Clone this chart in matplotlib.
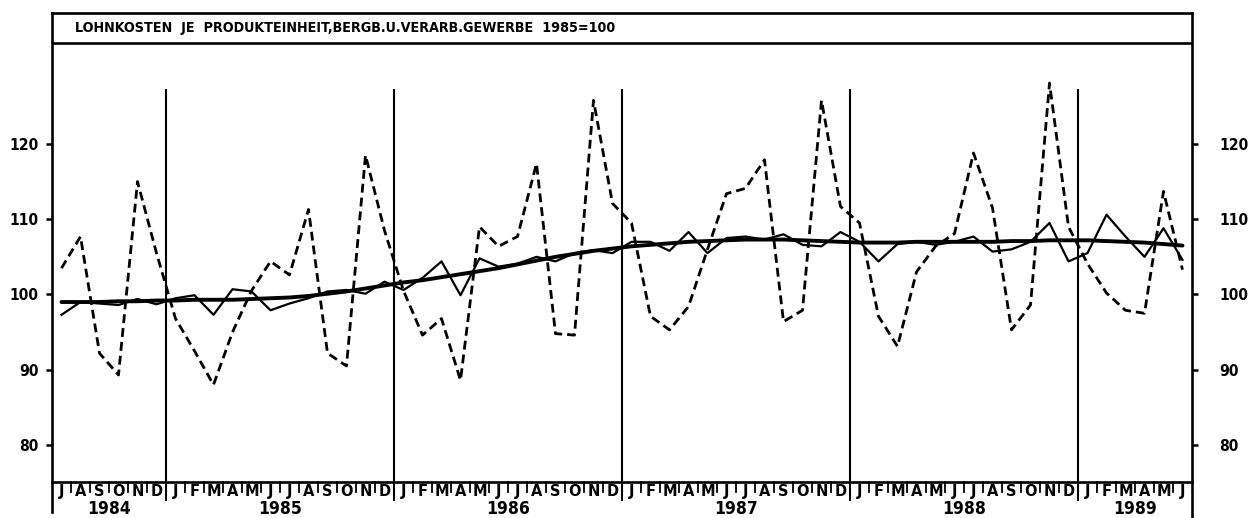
import matplotlib
matplotlib.use("Agg")
import matplotlib.pyplot as plt
from matplotlib import font_manager

# Monthly values, Jul 1984 .. Jun 1989
months = list("JASOND" + "JFMAMJJASOND" * 4 + "JFMAMJ")
years = ["1984", "1985", "1986", "1987", "1988", "1989"]
year_months = [6, 12, 12, 12, 12, 6]

raw = [103.5, 107.7, 92.2, 89.3, 115.0, 105.5,
       96.8, 92.5, 88.0, 95.0, 100.5, 104.4, 102.6, 111.3, 92.2, 90.5, 118.5, 108.5,
       100.5, 94.6, 96.8, 88.6, 109.0, 106.4, 107.7, 117.4, 94.8, 94.6, 125.8, 112.1,
       109.5, 97.1, 95.3, 98.4, 106.0, 113.4, 114.1, 117.9, 96.4, 97.9, 125.8, 111.7,
       109.5, 97.1, 93.1, 103.0, 106.4, 108.1, 118.8, 111.5, 95.3, 98.6, 128.1, 109.0,
       104.1, 100.2, 97.9, 97.5, 113.7, 103.3]

adjusted = [97.3, 99.0, 98.8, 98.6, 99.4, 98.7,
            99.5, 99.9, 97.3, 100.7, 100.4, 97.9, 98.8, 99.5, 100.4, 100.6, 100.1, 101.7,
            100.6, 102.2, 104.4, 99.9, 104.8, 103.7, 104.1, 105.0, 104.4, 105.5, 105.9, 105.5,
            107.0, 107.0, 105.8, 108.3, 105.5, 107.5, 107.7, 107.3, 108.0, 106.6, 106.4, 108.3,
            107.0, 104.4, 106.7, 107.0, 106.6, 107.0, 107.7, 105.7, 106.0, 107.0, 109.5, 104.4,
            105.5, 110.6, 107.7, 105.0, 108.8, 104.6]

trend = [99.0, 99.0, 99.0, 99.1, 99.1, 99.2,
         99.2, 99.3, 99.3, 99.3, 99.4, 99.5, 99.6, 99.8, 100.1, 100.4, 100.8, 101.2,
         101.6, 101.9, 102.3, 102.7, 103.1, 103.5, 104.0, 104.5, 105.0, 105.4, 105.8, 106.1,
         106.4, 106.6, 106.8, 107.0, 107.1, 107.2, 107.3, 107.3, 107.3, 107.2, 107.1, 107.0,
         106.9, 106.9, 106.9, 107.0, 107.0, 107.0, 107.0, 107.0, 107.1, 107.1, 107.2, 107.2,
         107.2, 107.1, 107.0, 106.9, 106.7, 106.5]

yticks = [80, 90, 100, 110, 120]
title = "LOHNKOSTEN  JE  PRODUKTEINHEIT,BERGB.U.VERARB.GEWERBE  1985=100"

# pick a narrow bold face if there is one
fonts = font_manager.fontManager.ttflist
names = {f.name for f in fonts}
if "Liberation Sans Narrow" in names:
    family, stretch, k = "Liberation Sans Narrow", "normal", 1.0
elif any(f.name == "DejaVu Sans" and f.stretch == "condensed" for f in fonts):
    family, stretch, k = "DejaVu Sans", "condensed", 0.9
else:
    family, stretch, k = "Liberation Sans", "normal", 0.86
plt.rcParams["font.family"] = family
plt.rcParams["font.stretch"] = stretch
plt.rcParams["font.weight"] = "bold"

W, H = 1251, 518
fig = plt.figure(figsize=(W / 100, H / 100), dpi=100)
ax = fig.add_axes([52 / W, (H - 482) / H, 1140 / W, (482 - 13) / H])

ymin, ymax = 75.08, 137.41
title_line = 133.42
n = len(months)
x = [i + 0.5 for i in range(n)]

ax.plot(x, raw, color="black", lw=2.0, ls=(0, (3.2, 1.8)))
ax.plot(x, adjusted, color="black", lw=1.6)
ax.plot(x, trend, color="black", lw=2.8, solid_capstyle="round")

ax.set_xlim(0, n)
ax.set_ylim(ymin, ymax)

for s in ax.spines.values():
    s.set_linewidth(1.9)

# title box
ax.axhline(title_line, color="black", lw=1.9)
ax.text(0.02, 0.5 * (title_line + ymax), title, transform=ax.get_yaxis_transform(),
        ha="left", va="center", fontsize=11.4 * k)

# year separators
edges = [0]
for m in year_months:
    edges.append(edges[-1] + m)
for e in edges[1:-1]:
    ax.plot([e, e], [72.7, 127.2], color="black", lw=1.5, clip_on=False)

# month separators and letters below axis
for i in range(1, n):
    if i not in edges:
        ax.plot([i, i], [ymin, ymin - 1.3], color="black", lw=1.3, clip_on=False)
for i, m in enumerate(months):
    ax.text(i + 0.5, ymin - 0.25, m, ha="center", va="top", fontsize=13 * k)
for j, yr in enumerate(years):
    ax.text(0.5 * (edges[j] + edges[j + 1]), ymin - 2.45, yr, ha="center", va="top",
            fontsize=14 * k)

# frame sides reach below the month row
ax.plot([0, 0], [ymin, 71.1], color="black", lw=1.9, clip_on=False)
ax.plot([n, n], [ymin, 70.2], color="black", lw=1.9, clip_on=False)

ax.set_xticks([])
ax.set_yticks(yticks)
ax.tick_params(axis="y", direction="out", length=4.5, width=1.8, pad=5, labelsize=12.5 * k)

ax2 = ax.twinx()
ax2.set_ylim(ymin, ymax)
ax2.set_yticks(yticks)
ax2.tick_params(axis="y", direction="out", length=4.5, width=1.8, pad=15, labelsize=12.5 * k)
for s in ax2.spines.values():
    s.set_visible(False)

fig.savefig("out.png", dpi=100)
